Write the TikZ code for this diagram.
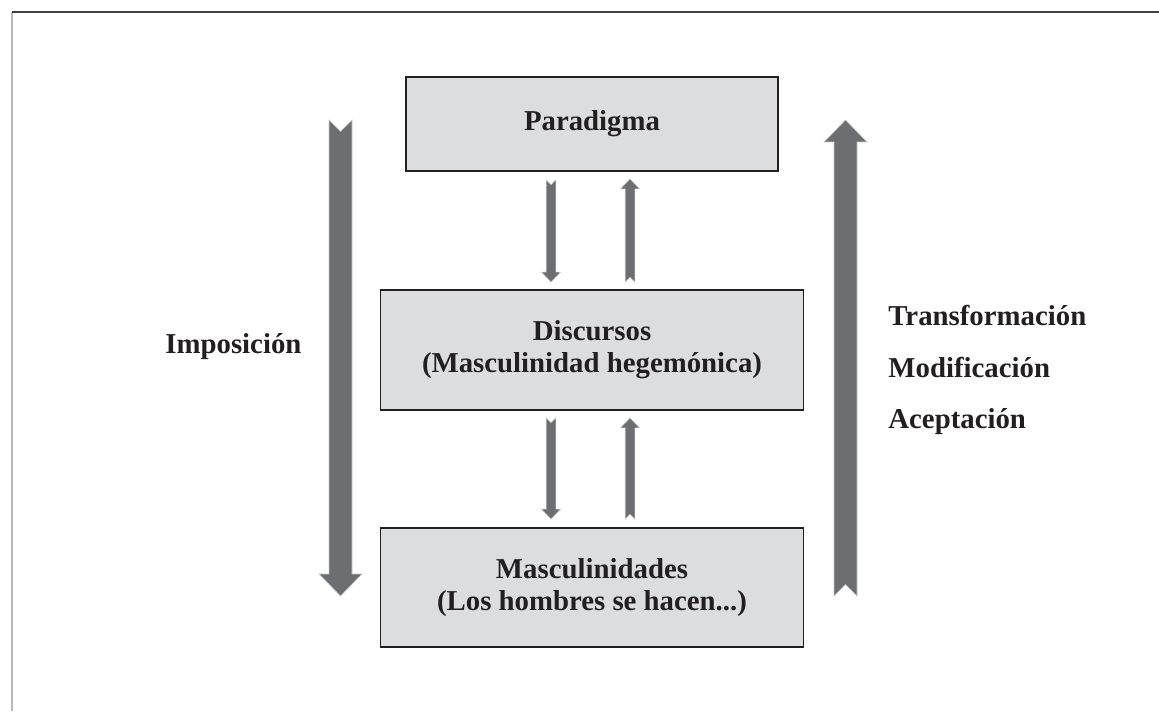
\documentclass[tikz,border=0pt]{standalone}
\usepackage{fontspec}
\setmainfont{Liberation Serif}
\usetikzlibrary{calc}
\definecolor{cajagris}{RGB}{220,221,223}
\definecolor{bordegris}{RGB}{35,31,32}
\definecolor{flechagris}{RGB}{109,110,113}
% fat vertical arrow: from, to, half shaft, half head, head length
\newcommand{\flecha}[5]{%
  \fill[flechagris,draw=gray!45,line width=0.3pt] let \p1=(#1),\p2=(#2),\n1={ifthenelse(\y2>\y1,1,-1)} in
    (\x1-#3,\y1)--(\x1,\y1+\n1*#3)--(\x1+#3,\y1)--(\x2+#3,\y2-\n1*#5)--(\x2+#4,\y2-\n1*#5)
    --(\x2,\y2)--(\x2-#4,\y2-\n1*#5)--(\x2-#3,\y2-\n1*#5)--cycle;}
\begin{document}
\begin{tikzpicture}[x=0.5pt,y=-0.5pt,
 every node/.style={font=\fontsize{14.4}{16}\selectfont\bfseries,text=bordegris,inner sep=0pt},
 caja/.style={draw=bordegris,fill=cajagris,line width=0.9pt,align=center}]
  \useasboundingbox (0,0) rectangle (1159,711);
  \draw[gray!55,line width=0.8pt] (12,711)--(12,12);
  \draw[black!75,line width=0.8pt] (12,12)--(1159,12);
  % boxes
  \node[caja,minimum width=186pt,minimum height=47pt] (par) at (592,124) {Paradigma};
  \node[caja,minimum width=211.5pt,minimum height=60pt] (dis) at (592,350) {Discursos\\(Masculinidad hegemónica)};
  \node[caja,minimum width=211.5pt,minimum height=59.5pt] (mas) at (592,587.5) {Masculinidades\\(Los hombres se hacen...)};
  % small arrows between the boxes
  \flecha{$(par.south)+(-41,8)$}{$(dis.north)+(-41,-7)$}{2.4pt}{4.75pt}{5pt}
  \flecha{$(dis.north)+(38,-7)$}{$(par.south)+(38,7)$}{2.4pt}{4.75pt}{5pt}
  \flecha{$(dis.south)+(-41,7)$}{$(mas.north)+(-41,-8)$}{2.4pt}{4.75pt}{5pt}
  \flecha{$(mas.north)+(38,-8)$}{$(dis.south)+(38,7)$}{2.4pt}{4.75pt}{5pt}
  % big side arrows
  \coordinate (impArriba) at (340.5,120);
  \coordinate (impAbajo) at (340.5,596);
  \flecha{impArriba}{impAbajo}{5.75pt}{10.75pt}{11pt}
  \coordinate (transAbajo) at (845.5,596);
  \coordinate (transArriba) at (845.5,120);
  \flecha{transAbajo}{transArriba}{5.75pt}{10.75pt}{11pt}
  % labels
  \node[anchor=base west] (imp) at (165,353) {Imposición};
  \node[anchor=base west] (tra) at (888,325) {Transformación};
  \node[anchor=base west] (mod) at (888,377) {Modificación};
  \node[anchor=base west] (ace) at (888,428) {Aceptación};
\end{tikzpicture}
\end{document}
